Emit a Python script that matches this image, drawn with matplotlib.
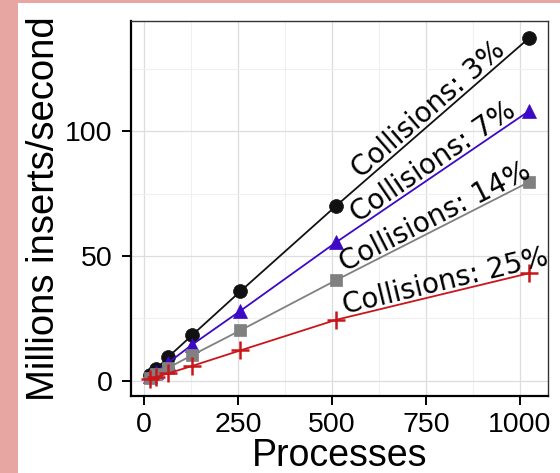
import numpy as np
import matplotlib
matplotlib.use("Agg")
import matplotlib.pyplot as plt
from matplotlib.patches import Rectangle
from matplotlib.ticker import MultipleLocator
from matplotlib.transforms import offset_copy

# Throughput measurements
processes = [16, 32, 64, 128, 256, 512, 1024]
rate_3 = [2.3, 4.6, 9.5, 18.3, 35.8, 70.2, 137.2]
rate_7 = [1.8, 3.6, 7.2, 14.5, 28.0, 55.6, 108.0]
rate_14 = [1.3, 2.6, 5.2, 10.3, 20.2, 40.4, 79.6]
rate_25 = [0.8, 1.5, 3.0, 6.0, 12.2, 24.5, 43.1]
series_labels = ["Collisions: 3%", "Collisions: 7%", "Collisions: 14%", "Collisions: 25%"]
x_ticks = [0, 250, 500, 750, 1000]
y_ticks = [0, 50, 100]

series = [rate_3, rate_7, rate_14, rate_25]
colors = ["#111111", "#3C0AC4", "#808080", "#C8161B"]
markers = ["o", "^", "s", "+"]
msizes = [10, 10.5, 9, 13]
label_x = [778, 787, 788, 810]

fig = plt.figure(figsize=(5.6, 4.73), dpi=100, facecolor="#E8A6A3")
fig.patches.append(Rectangle((18 / 560, 0), 1, 1 - 3 / 473, transform=fig.transFigure,
                             facecolor="white", edgecolor="none", zorder=-5))

ax = fig.add_axes([131 / 560, 1 - 396 / 473, (548 - 131) / 560, (396 - 21) / 473])
ax.set_facecolor("white")

ymin = min(min(s) for s in series)
ymax = max(max(s) for s in series)
pad = 0.05 * (ymax - ymin)
ax.set_ylim(ymin - pad, ymax + pad)
xpad = 0.05 * (processes[-1] - processes[0])
ax.set_xlim(processes[0] - xpad, processes[-1] + xpad)

for vals, c, m, ms in zip(series, colors, markers, msizes):
    ax.plot(processes, vals, color=c, lw=1.3, marker=m, markersize=ms,
            markeredgewidth=1.8 if m == "+" else 0.5, markeredgecolor=c,
            zorder=3, clip_on=False)

# Line labels sitting just above the segment between the last two points
gap = 2.5  # points
for vals, lab, lx in zip(series, series_labels, label_x):
    x0, x1 = processes[-2], processes[-1]
    y0, y1 = vals[-2], vals[-1]
    ly = y0 + (y1 - y0) * (lx - x0) / (x1 - x0)
    ang = np.degrees(np.arctan2(y1 - y0, x1 - x0))
    (sx0, sy0), (sx1, sy1) = ax.transData.transform([(x0, y0), (x1, y1)])
    a = np.arctan2(sy1 - sy0, sx1 - sx0)
    tr = offset_copy(ax.transData, fig=fig, x=-np.sin(a) * gap, y=np.cos(a) * gap,
                     units="points")
    ax.text(lx, ly, lab, rotation=ang, transform=tr, transform_rotates_text=True,
            rotation_mode="anchor", ha="center", va="baseline",
            fontsize=20, family="DejaVu Sans", color="black",
            clip_on=False, zorder=4)

ax.set_xticks(x_ticks)
ax.set_yticks(y_ticks)
ax.xaxis.set_minor_locator(MultipleLocator(125))
ax.yaxis.set_minor_locator(MultipleLocator(25))
ax.grid(which="major", color="#DDDDDD", lw=0.9, zorder=0)
ax.grid(which="minor", color="#F0F0F0", lw=0.8, zorder=0)
ax.set_axisbelow(True)

ax.tick_params(which="major", direction="out", length=6.5, width=1.4, color="black",
               labelsize=20.5, pad=5)
ax.tick_params(axis="y", which="major", pad=7)
ax.tick_params(which="minor", length=0)
for lab in ax.get_xticklabels() + ax.get_yticklabels():
    lab.set_family("Liberation Sans")

for side in ["top", "right"]:
    ax.spines[side].set_color("#333333")
    ax.spines[side].set_linewidth(1.0)
for side in ["left", "bottom"]:
    ax.spines[side].set_color("black")
    ax.spines[side].set_linewidth(1.6)

ax.set_xlabel("Processes", fontsize=27, family="Liberation Sans", labelpad=0)
ax.set_ylabel("Millions inserts/second", fontsize=27.5, family="Liberation Sans", labelpad=2)

fig.savefig("out.png", dpi=100, facecolor=fig.get_facecolor())
